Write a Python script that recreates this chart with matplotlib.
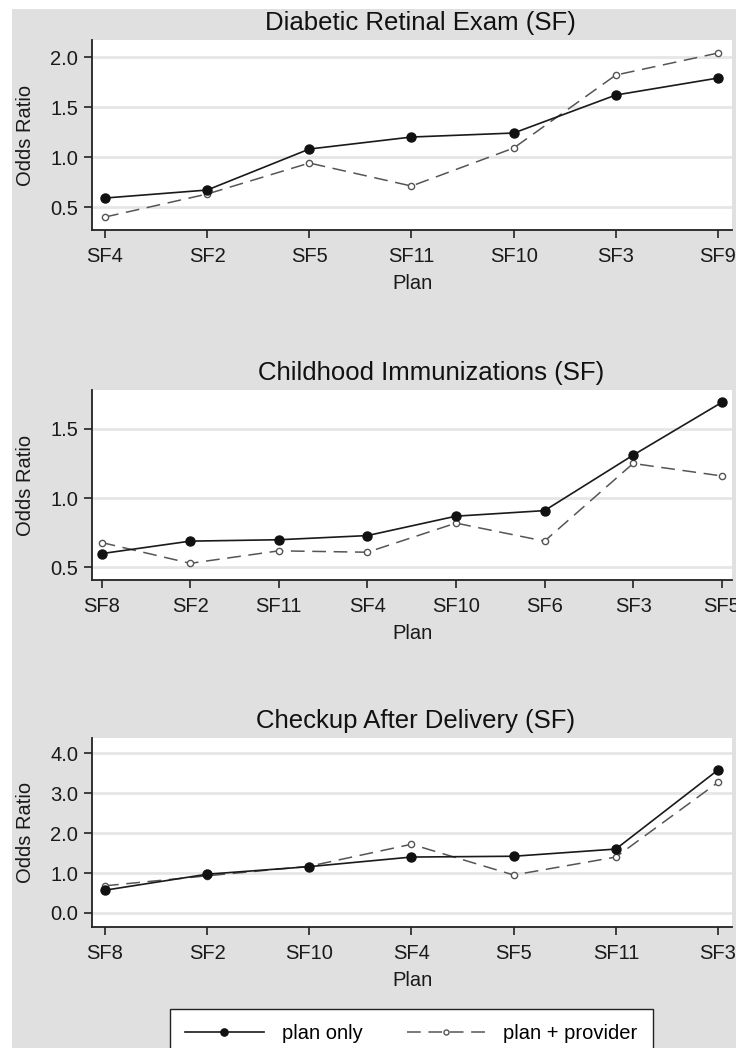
import matplotlib.pyplot as plt
import matplotlib.patches as mpatches
import numpy as np

plt.rcParams['font.family'] = ['Liberation Sans', 'DejaVu Sans']

# panel 1: diabetic retinal exam
plans1 = ["SF4", "SF2", "SF5", "SF11", "SF10", "SF3", "SF9"]
plan1 = [0.59, 0.67, 1.08, 1.20, 1.24, 1.62, 1.79]
prov1 = [0.40, 0.63, 0.94, 0.71, 1.09, 1.82, 2.04]

# panel 2: childhood immunizations
plans2 = ["SF8", "SF2", "SF11", "SF4", "SF10", "SF6", "SF3", "SF5"]
plan2 = [0.60, 0.69, 0.70, 0.73, 0.87, 0.91, 1.31, 1.69]
prov2 = [0.68, 0.53, 0.62, 0.61, 0.82, 0.69, 1.25, 1.16]

# panel 3: checkup after delivery
plans3 = ["SF8", "SF2", "SF10", "SF4", "SF5", "SF11", "SF3"]
plan3 = [0.57, 0.97, 1.16, 1.40, 1.42, 1.60, 3.58]
prov3 = [0.68, 0.93, 1.17, 1.72, 0.95, 1.40, 3.27]

titles = ["Diabetic Retinal Exam (SF)", "Childhood Immunizations (SF)",
          "Checkup After Delivery (SF)"]

fig = plt.figure(figsize=(7.36, 10.48), dpi=100, facecolor='white')
# gray panel behind everything
fig.patches.append(mpatches.Rectangle((12/736, 0), 1, 1 - 9/1048,
                                      transform=fig.transFigure,
                                      facecolor='#e0e0e0', edgecolor='none', zorder=-10))

axpos = [[0.125, 0.7805, 0.870, 0.1813],
         [0.125, 0.4466, 0.870, 0.1813],
         [0.125, 0.1155, 0.870, 0.1803]]
panels = [(plans1, plan1, prov1, (0.27, 2.17), [0.5, 1.0, 1.5, 2.0], 0.5125),
          (plans2, plan2, prov2, (0.41, 1.78), [0.5, 1.0, 1.5], 0.53),
          (plans3, plan3, prov3, (-0.35, 4.38), [0.0, 1.0, 2.0, 3.0, 4.0], 0.505)]

for i, (labs, a, b, ylim, yt, tx) in enumerate(panels):
    ax = fig.add_axes(axpos[i])
    ax.set_facecolor('white')
    x = np.arange(len(labs))
    ax.plot(x, a, '-', color='#1a1a1a', lw=1.2, marker='o', ms=6.5,
            mfc='#111111', mec='#111111', label="plan only", zorder=3)
    ax.plot(x, b, '--', color='#555555', lw=1.1, dashes=(9, 5), marker='o', ms=4.5,
            mfc='white', mec='#555555', mew=1.0, label="plan + provider", zorder=2)
    ax.set_xticks(x)
    ax.set_xticklabels(labs)
    sp = (len(labs) - 1)
    ax.set_xlim(-0.127 * 6 / sp, sp + 0.14 * 6 / sp)
    ax.set_ylim(*ylim)
    ax.set_yticks(yt)
    ax.set_yticklabels(["%.1f" % v for v in yt])
    ax.grid(axis='y', color='#e6e6e6', lw=2)
    ax.set_axisbelow(True)
    for s in ['top', 'right']:
        ax.spines[s].set_visible(False)
    for s in ['left', 'bottom']:
        ax.spines[s].set_color('#222222')
        ax.spines[s].set_linewidth(1.3)
    ax.tick_params(length=6, width=1.2, color='#222222', labelsize=14.5,
                   labelcolor='#1a1a1a')
    ax.tick_params(axis='x', pad=6)
    ax.tick_params(axis='y', pad=4)
    ax.set_xlabel("Plan", fontsize=14.5, color='#1a1a1a', labelpad=6)
    ax.set_ylabel("Odds Ratio", fontsize=14.5, color='#1a1a1a')
    ax.yaxis.set_label_coords(-0.089, 0.5)
    ax.set_title(titles[i], fontsize=18.5, color='#111111', x=tx, pad=7)

fig.legend(*ax.get_legend_handles_labels(), loc='upper center',
           bbox_to_anchor=(0.559, 0.0372), ncol=2, fontsize=14.5,
           frameon=True, fancybox=False, edgecolor='#222222', facecolor='white',
           handlelength=3.9, handletextpad=0.9, columnspacing=2.2,
           markerscale=0.8, borderpad=0.75, borderaxespad=0, framealpha=1)

fig.savefig("out.png", dpi=100)
